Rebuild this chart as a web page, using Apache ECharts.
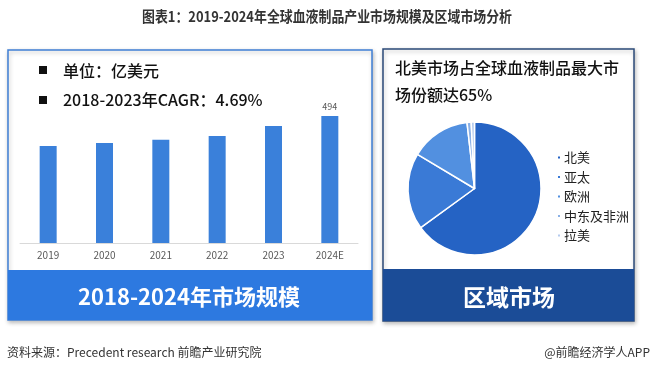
<!DOCTYPE html>
<html><head><meta charset="utf-8">
<script src="https://cdn.jsdelivr.net/npm/echarts@6/dist/echarts.min.js"></script>
<style>html,body{margin:0;padding:0;background:#fff}#c{width:655px;height:374px}</style>
</head><body><div id="c"></div>
<script>
const years = ['2019','2020','2021','2022','2023','2024E'];
const marketSize = [377, 389, 401, 416, 455, 494];
const regions = ['北美','亚太','欧洲','中东及非洲','拉美'];
const regionShare = [65, 18.6, 14.6, 1.0, 0.8];
const regionColors = ['#2563c4','#3a7ad6','#5290e0','#8ab0e6','#b5cbee'];

const chart = echarts.init(document.getElementById('c'), null, {renderer:'canvas'});
const font = '"Noto Sans CJK SC","Noto Sans",sans-serif';
chart.setOption({
  backgroundColor:'#fff',
  animation:false,
  graphic:[
    {type:'rect', z:0, shape:{x:8,y:50,width:364,height:270}, style:{fill:'#fff',stroke:'#3f7fd5',lineWidth:1.5,shadowBlur:4,shadowColor:'rgba(0,0,0,0.25)',shadowOffsetX:1,shadowOffsetY:2}},
    {type:'rect', z:1, shape:{x:8,y:270,width:364,height:50}, style:{fill:'#2d79e0'}},
    {type:'rect', z:0, shape:{x:383,y:49,width:251,height:272}, style:{fill:'#fff',stroke:'#2b4a78',lineWidth:1.5,shadowBlur:4,shadowColor:'rgba(0,0,0,0.25)',shadowOffsetX:1,shadowOffsetY:2}},
    {type:'rect', z:1, shape:{x:383,y:269,width:251,height:52}, style:{fill:'#1b4c97'}},
    {type:'text', z:5, x:327, y:16, scaleX:0.86, style:{text:'图表1：2019-2024年全球血液制品产业市场规模及区域市场分析', font:'bold 15px '+font, fill:'#333', textAlign:'center', textVerticalAlign:'middle'}},
    {type:'rect', z:5, shape:{x:39,y:66,width:8,height:8}, style:{fill:'#111'}},
    {type:'rect', z:5, shape:{x:39,y:96,width:8,height:8}, style:{fill:'#111'}},
    {type:'text', z:5, x:63, y:71, style:{text:'单位：亿美元', font:'500 16px '+font, fill:'#111', textVerticalAlign:'middle'}},
    {type:'text', z:5, x:63, y:100, style:{text:'2018-2023年CAGR：4.69%', font:'500 16px '+font, fill:'#111', textVerticalAlign:'middle'}},
    {type:'text', z:5, x:189, y:297, style:{text:'2018-2024年市场规模', font:'bold 22px '+font, fill:'#fff', textAlign:'center', textVerticalAlign:'middle'}},
    {type:'text', z:5, x:509, y:297, style:{text:'区域市场', font:'bold 23px '+font, fill:'#fff', textAlign:'center', textVerticalAlign:'middle'}},
    {type:'text', z:5, x:395, y:68, style:{text:'北美市场占全球血液制品最大市', font:'500 16px '+font, fill:'#111', textVerticalAlign:'middle'}},
    {type:'text', z:5, x:395, y:95, style:{text:'场份额达65%', font:'500 16px '+font, fill:'#111', textVerticalAlign:'middle'}},
    {type:'text', z:5, x:7, y:352, style:{text:'资料来源：Precedent research 前瞻产业研究院', font:'12px '+font, fill:'#333', textVerticalAlign:'middle'}},
    {type:'text', z:5, x:650, y:352, style:{text:'@前瞻经济学人APP', font:'12px '+font, fill:'#333', textAlign:'right', textVerticalAlign:'middle'}}
  ],
  grid:{left:20, right:297, top:100, bottom:131, containLabel:false},
  xAxis:{type:'category', data:years, axisLine:{lineStyle:{color:'#d9d9d9'}}, axisTick:{show:false},
    axisLabel:{color:'#595959', fontSize:10, fontFamily:font, margin:7}},
  yAxis:{type:'value', min:0, max:556, show:false, splitLine:{show:false}},
  legend:{orient:'vertical', left:551, top:146, itemWidth:4, itemHeight:4, itemGap:6.5, icon:'rect',
    textStyle:{fontSize:13, color:'#222', fontFamily:font, padding:[0,0,0,-2]}, data:regions},
  series:[
    {type:'bar', data:marketSize, barWidth:17, itemStyle:{color:'#3a80da'},
      label:{show:true, position:'top', formatter:p=>p.dataIndex===5?p.value:'', color:'#595959', fontSize:9, fontFamily:font}},
    {type:'pie', center:[474.5,188.5], radius:[0,66.5], startAngle:90, clockwise:true,
      label:{show:false}, labelLine:{show:false},
      itemStyle:{borderColor:'#fff', borderWidth:1.5},
      data:regions.map((r,i)=>({name:r, value:regionShare[i], itemStyle:{color:regionColors[i]}}))}
  ]
});
</script></body></html>
